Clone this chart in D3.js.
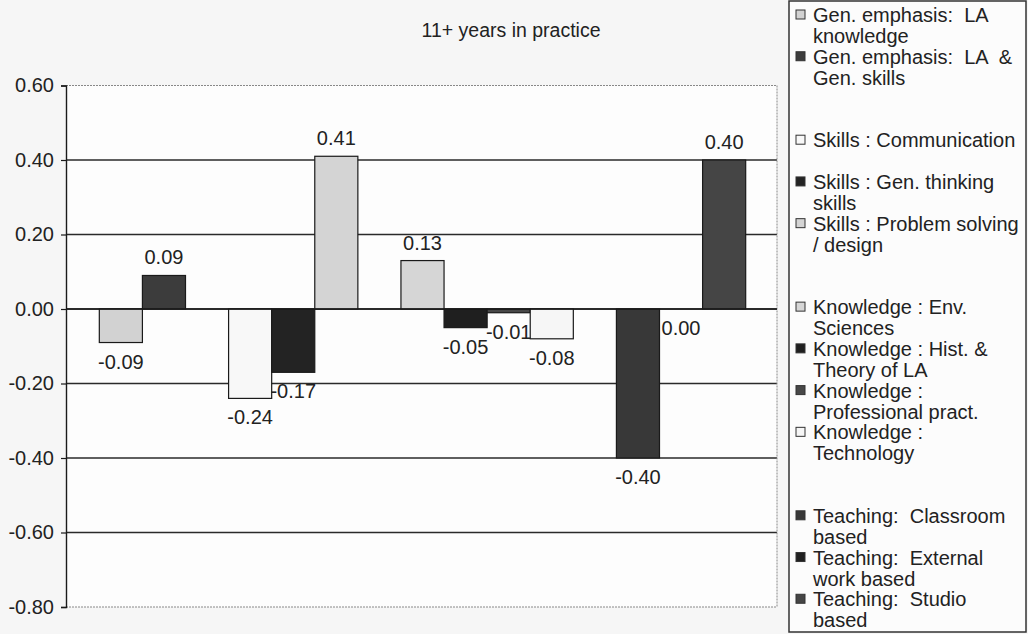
<!DOCTYPE html>
<html>
<head>
<meta charset="utf-8">
<script src="https://cdn.jsdelivr.net/npm/d3@7"></script>
<style>
  html, body { margin: 0; padding: 0; background: #f6f6f6; }
  svg { display: block; font-family: "Liberation Sans", Arial, sans-serif; }
  text { white-space: pre; }
</style>
</head>
<body>
<svg id="chart" width="1028" height="634"></svg>
<script>
// ---- data ----
const title = "11+ years in practice";
const categories = ["11+ years in practice"];
// 15 series incl. three blank spacer series (Excel layout)
const seriesNames = [
  "Gen. emphasis:  LA\nknowledge",
  "Gen. emphasis:  LA  &\nGen. skills",
  "",
  "Skills : Communication",
  "Skills : Gen. thinking\nskills",
  "Skills : Problem solving\n/ design",
  "",
  "Knowledge : Env.\nSciences",
  "Knowledge : Hist. &\nTheory of LA",
  "Knowledge :\nProfessional pract.",
  "Knowledge :\nTechnology",
  "",
  "Teaching:  Classroom\nbased",
  "Teaching:  External\nwork based",
  "Teaching:  Studio\nbased"
];
const seriesValues = [-0.09, 0.09, null, -0.24, -0.17, 0.41, null, 0.13, -0.05, -0.01, -0.08, null, -0.40, 0.00, 0.40];
const seriesColors = ["#d2d2d2", "#3c3c3c", "none", "#f8f8f8", "#232323", "#d4d4d4", "none", "#d6d6d6", "#1f1f1f", "#484848", "#f6f6f6", "none", "#383838", "#202020", "#454545"];
const yTicks = [0.60, 0.40, 0.20, 0.00, -0.20, -0.40, -0.60, -0.80];

// ---- layout ----
const svg = d3.select("#chart");
const plot = { left: 66, right: 777, top: 85.5, bottom: 607 };
const keys = d3.range(seriesNames.length);
const fmt = v => d3.format(".2f")(v).replace("\u2212", "-");

const y = d3.scaleLinear().domain([-0.8, 0.6]).range([plot.bottom, plot.top]);
const x0 = d3.scaleBand().domain(categories).range([plot.left + 1, plot.right + 1]).padding(0);
const x1 = d3.scaleBand().domain(keys).range([0, x0.bandwidth()]).paddingInner(0).paddingOuter(0.75);

// plot area background
svg.append("rect").attr("x", plot.left).attr("y", plot.top)
  .attr("width", plot.right - plot.left).attr("height", plot.bottom - plot.top)
  .attr("fill", "#fdfdfd");

// gridlines (inner solid, outer border dotted)
svg.append("g").selectAll("line").data(yTicks).join("line")
  .attr("x1", plot.left).attr("x2", plot.right)
  .attr("y1", d => y(d)).attr("y2", d => y(d))
  .attr("stroke", d => (d === 0.6 || d === -0.8) ? "#888" : "#2a2a2a")
  .attr("stroke-width", d => (d === 0.6 || d === -0.8) ? 1 : 1.3)
  .attr("stroke-dasharray", d => (d === 0.6 || d === -0.8) ? "2,1" : null);
// right border dotted
svg.append("line").attr("x1", plot.right).attr("x2", plot.right)
  .attr("y1", plot.top).attr("y2", plot.bottom)
  .attr("stroke", "#888").attr("stroke-dasharray", "2,1");

// bars
const g = svg.append("g").attr("transform", `translate(${x0(categories[0])},0)`);
const barData = keys.filter(i => seriesValues[i] !== null).map(i => ({ i, v: seriesValues[i] }));
g.selectAll("rect.bar").data(barData).join("rect")
  .attr("class", "bar")
  .attr("x", d => x1(d.i))
  .attr("width", x1.bandwidth())
  .attr("y", d => y(Math.max(0, d.v)))
  .attr("height", d => Math.abs(y(d.v) - y(0)))
  .attr("fill", d => seriesColors[d.i])
  .attr("stroke", "#1a1a1a").attr("stroke-width", d => d.v === 0 ? 0 : 1.2);

// zero axis line
svg.append("line").attr("x1", plot.left).attr("x2", plot.right)
  .attr("y1", y(0)).attr("y2", y(0)).attr("stroke", "#1a1a1a").attr("stroke-width", 1.4);

// data labels
g.selectAll("text.lbl").data(barData).join("text")
  .attr("class", "lbl")
  .attr("x", d => x1(d.i) + x1.bandwidth() / 2)
  .attr("y", d => d.v > 0 ? y(d.v) - 18 : y(d.v) + 19)
  .attr("dy", "0.35em")
  .attr("text-anchor", "middle")
  .attr("font-size", 20).attr("fill", "#222")
  .text(d => fmt(d.v));

// y axis
const yAxis = d3.axisLeft(y).tickValues(yTicks).tickFormat(fmt).tickSize(5).tickPadding(7);
const ya = svg.append("g").attr("transform", `translate(${plot.left},0)`).call(yAxis);
ya.select(".domain").attr("stroke", "#1a1a1a").attr("stroke-width", 1.4);
ya.selectAll(".tick line").attr("stroke", "#1a1a1a").attr("stroke-width", 1.2);
ya.selectAll(".tick text").attr("font-size", 20).attr("fill", "#222")
  .attr("font-family", "'Liberation Sans', Arial, sans-serif");

// title
svg.append("text").attr("x", 511).attr("y", 30).attr("dy", "0.35em")
  .attr("text-anchor", "middle").attr("font-size", 19.5).attr("fill", "#222").text(title);

// legend
const leg = { left: 789, top: 1, right: 1026, bottom: 632 };
svg.append("rect").attr("x", leg.left).attr("y", leg.top)
  .attr("width", leg.right - leg.left).attr("height", leg.bottom - leg.top)
  .attr("fill", "#fcfcfc").attr("stroke", "#333").attr("stroke-width", 1.5);
const ly = d3.scaleBand().domain(keys).range([leg.top + 1, 628]);
const items = svg.append("g").selectAll("g").data(keys.filter(i => seriesNames[i] !== "")).join("g")
  .attr("transform", i => `translate(0,${ly(i) + 13})`);
items.append("rect").attr("x", 796).attr("y", -5).attr("width", 9).attr("height", 9)
  .attr("fill", i => seriesColors[i]).attr("stroke", "#333").attr("stroke-width", 1);
items.append("text").attr("x", 813).attr("font-size", 20).attr("fill", "#222")
  .selectAll("tspan").data(i => seriesNames[i].split("\n")).join("tspan")
  .attr("x", 813).attr("y", (d, j) => j * 21).attr("dy", "0.35em").text(d => d);
</script>
</body>
</html>
